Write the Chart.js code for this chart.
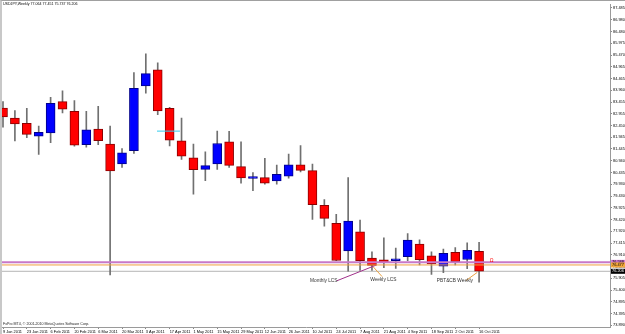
<!DOCTYPE html>
<html>
<head>
<meta charset="utf-8">
<script src="https://cdn.jsdelivr.net/npm/chart.js@4.4.0/dist/chart.umd.min.js"></script>
<style>
  html, body { margin: 0; padding: 0; background: #fff; }
  #frame { width: 625px; height: 334px; box-sizing: border-box; border-left: 2px solid #c8c8c8; border-top: 1px solid #a0a0a0; }
  canvas { display: block; }
</style>
</head>
<body>
<div id="frame"><canvas id="chart" width="623" height="333"></canvas></div>
<script>
// weekly USDJPY candles, 9 Jan 2011 .. 16 Oct 2011
const symbolTitle = "USDJPY,Weekly 77.064 77.451 75.737 76.206";
const copyright = "FxPro MT4, \u00a9 2001-2010 MetaQuotes Software Corp.";

const dateLabels = ["9 Jan 2011", "23 Jan 2011", "6 Feb 2011", "20 Feb 2011", "6 Mar 2011",
  "20 Mar 2011", "3 Apr 2011", "17 Apr 2011", "1 May 2011", "15 May 2011", "29 May 2011",
  "12 Jun 2011", "26 Jun 2011", "10 Jul 2011", "24 Jul 2011", "7 Aug 2011", "21 Aug 2011",
  "4 Sep 2011", "18 Sep 2011", "2 Oct 2011", "16 Oct 2011"];

const opens = [83.20, 82.77, 82.54, 81.99, 82.13, 83.47, 83.06, 81.63, 82.30, 81.65,
  80.80, 81.37, 84.15, 84.84, 83.19, 81.79, 81.07, 80.57, 80.80, 81.75,
  80.69, 80.18, 80.22, 80.08, 80.28, 80.77, 80.52, 79.03, 78.26, 77.08,
  77.90, 76.77, 76.70, 76.66, 76.83, 77.37, 76.87, 76.43, 77.02, 76.71, 77.064];
const highs = [83.47, 83.09, 83.19, 82.43, 83.66, 83.94, 83.52, 83.06, 83.27, 82.43,
  81.46, 84.72, 85.52, 85.14, 83.23, 82.77, 81.66, 81.32, 82.21, 82.20,
  81.75, 80.43, 81.04, 80.76, 81.23, 81.59, 80.80, 79.28, 78.65, 80.22,
  78.40, 77.04, 77.64, 77.20, 77.82, 77.55, 77.04, 77.16, 77.22, 77.42, 77.451];
const lows = [82.38, 81.79, 81.93, 81.21, 81.72, 82.99, 81.56, 81.52, 81.63, 76.05,
  80.65, 81.25, 83.83, 82.91, 81.58, 81.00, 79.51, 80.09, 80.57, 80.65,
  79.98, 79.66, 79.94, 79.94, 80.19, 80.46, 78.43, 78.14, 76.66, 76.21,
  76.24, 76.24, 76.36, 76.33, 76.66, 76.48, 76.07, 76.15, 76.48, 76.32, 75.737];
const closes = [82.82, 82.52, 82.07, 82.16, 83.40, 83.15, 81.61, 82.27, 81.80, 80.51,
  81.28, 84.04, 84.67, 83.08, 81.82, 81.14, 80.56, 80.73, 81.68, 80.74,
  80.21, 80.26, 79.98, 80.36, 80.77, 80.53, 79.06, 78.47, 76.67, 78.36,
  76.66, 76.46, 76.58, 76.74, 77.54, 76.70, 76.52, 76.98, 76.62, 77.10, 76.206];

const priceTicks = [87.485, 86.980, 86.480, 85.975, 85.470, 84.965, 84.465, 83.960, 83.455,
  82.955, 82.450, 81.945, 81.445, 80.940, 80.435, 79.930, 79.430, 78.925, 78.420, 77.920,
  77.415, 76.910, 76.405, 75.905, 75.400, 74.895, 74.395, 73.890];

// drawn horizontal levels and the bid line
const monthlyLevel = 76.588;
const weeklyLevel = 76.477;
const bidPrice = 76.206;

const notes = [
  { text: "Monthly LCS", x: 25.8, y: 75.79 },
  { text: "Weekly LCS", x: 30.85, y: 75.84 },
  { text: "PBT&CB Weekly", x: 36.45, y: 75.81 }
];

const RED = "#ff0000";
const BLUE = "#0000ff";
const FONT = "'Liberation Sans', Arial, sans-serif";

const idx = opens.map((_, i) => i);
const isUp = idx.map((i) => closes[i] >= opens[i]);

function segment(x1, y1, x2, y2, color, width, order) {
  return {
    type: "line",
    data: [{ x: x1, y: y1 }, { x: x2, y: y2 }],
    borderColor: color,
    borderWidth: width,
    pointRadius: 0,
    order: order,
  };
}

// text, axis boxes and the small arrow mark
const overlayPlugin = {
  id: "overlay",
  afterDraw(chart) {
    const ctx = chart.ctx;
    const xs = chart.scales.x;
    const ys = chart.scales.y;
    const area = chart.chartArea;
    ctx.save();
    ctx.textBaseline = "middle";
    ctx.textAlign = "left";

    ctx.fillStyle = "#000";
    ctx.font = "3.6px " + FONT;
    ctx.fillText(symbolTitle, 1, 3);
    ctx.fillStyle = "#222";
    ctx.fillText(copyright, 1, 323);

    ctx.fillStyle = "#333";
    ctx.font = "4.8px " + FONT;
    notes.forEach((n) => {
      ctx.fillText(n.text, xs.getPixelForValue(n.x), ys.getPixelForValue(n.y));
    });

    ctx.fillStyle = RED;
    ctx.font = "5px " + FONT;
    ctx.fillText("\u03a9", xs.getPixelForValue(40.9), ys.getPixelForValue(76.66));

    const boxes = [
      { v: monthlyLevel, bg: "#d27ad2", fg: "#000" },
      { v: weeklyLevel, bg: "#f4a83a", fg: "#000" },
      { v: bidPrice, bg: "#000", fg: "#fff" }
    ];
    ctx.font = "3.9px " + FONT;
    boxes.forEach((b) => {
      const y = ys.getPixelForValue(b.v);
      ctx.fillStyle = b.bg;
      ctx.fillRect(area.right + 1, y - 2.5, chart.width - area.right - 1, 5);
      ctx.fillStyle = b.fg;
      ctx.fillText(b.v.toFixed(3), area.right + 2, y);
    });
    ctx.restore();
  },
};

new Chart(document.getElementById("chart"), {
  type: "bar",
  data: {
    datasets: [
      {
        label: "body",
        data: idx.map((i) => ({ x: i, y: [Math.min(opens[i], closes[i]), Math.max(opens[i], closes[i])] })),
        backgroundColor: idx.map((i) => (isUp[i] ? BLUE : RED)),
        borderColor: idx.map((i) => (isUp[i] ? "#00008b" : "#8b0000")),
        borderWidth: 1,
        borderSkipped: false,
        barThickness: 9,
        order: 1,
      },
      {
        label: "wick",
        data: idx.map((i) => ({ x: i, y: [lows[i], highs[i]] })),
        backgroundColor: "#707070",
        barThickness: 1,
        order: 2,
      },
      segment(-1, bidPrice, 60, bidPrice, "#b4b4b4", 1, 3),
      segment(-1, weeklyLevel, 60, weeklyLevel, "#f0a040", 1, 0),
      segment(-1, monthlyLevel, 60, monthlyLevel, "#c878c8", 2, 0),
      segment(12.94, 82.21, 14.87, 82.21, "#33ccee", 1, 0),
      // leader lines to the labels
      segment(28.05, 75.80, 31.35, 76.47, "#a0308a", 1, 0),
      segment(31.1, 76.40, 31.85, 75.98, "#e8a040", 1, 0),
      segment(38.9, 75.81, 39.85, 76.16, "#e8a040", 1, 0),
    ],
  },
  options: {
    responsive: false,
    animation: false,
    grouped: false,
    layout: { padding: 0 },
    plugins: { legend: { display: false }, tooltip: { enabled: false } },
    scales: {
      x: {
        type: "linear",
        min: -0.084,
        max: 51.0,
        offset: false,
        grid: { display: true, drawOnChartArea: false, tickLength: 2, color: "#888", offset: false },
        border: { color: "#9a9a9a" },
        ticks: {
          autoSkip: false,
          maxRotation: 0,
          align: "start",
          padding: 1,
          color: "#000",
          font: { size: 3.9, family: FONT },
          callback: (v, i) => dateLabels[i],
        },
        afterBuildTicks: (scale) => {
          scale.ticks = dateLabels.map((_, i) => ({ value: i * 2 }));
        },
        afterFit: (scale) => { scale.height = 7; },
      },
      y: {
        position: "right",
        beginAtZero: false,
        min: 73.82,
        max: 87.64,
        grid: { display: true, drawOnChartArea: false, tickLength: 2, color: "#888" },
        border: { color: "#9a9a9a" },
        ticks: {
          autoSkip: false,
          padding: 1,
          color: "#000",
          font: { size: 3.9, family: FONT },
          callback: (v) => v.toFixed(3),
        },
        afterBuildTicks: (scale) => {
          scale.ticks = priceTicks.map((v) => ({ value: v }));
        },
        afterFit: (scale) => { scale.width = 15; },
      },
    },
  },
  plugins: [overlayPlugin],
});
</script>
</body>
</html>
